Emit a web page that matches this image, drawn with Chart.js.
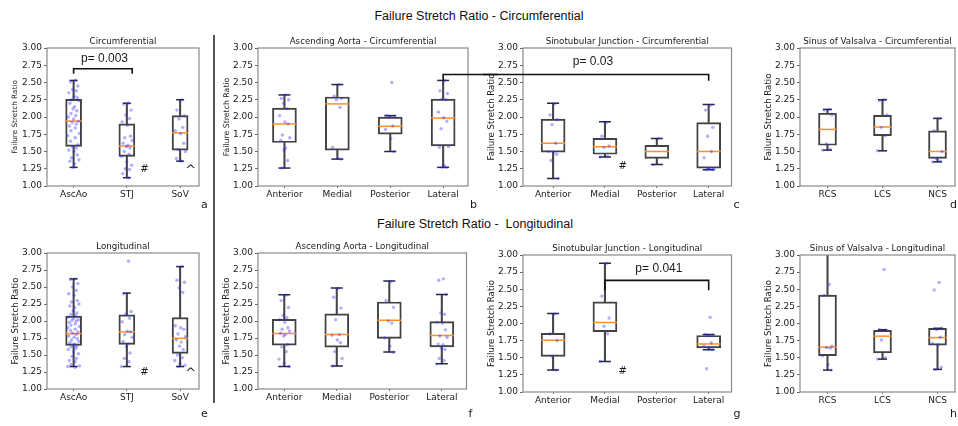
<!DOCTYPE html>
<html>
<head>
<meta charset="utf-8">
<script src="https://cdn.jsdelivr.net/npm/chart.js@4.4.1/dist/chart.umd.min.js"></script>
<style>
  body { margin: 0; width: 958px; height: 426px; background: #fff; position: relative; overflow: hidden; }
  canvas { position: absolute; }
  .main { position: absolute; left: 0; width: 958px; text-align: center; white-space: pre;
          font: 12.5px "Liberation Sans", Arial, sans-serif; color: #111; }
  #divider { position: absolute; left: 213px; top: 35px; width: 2px; height: 368px; background: #555; }
</style>
</head>
<body>
<div class="main" style="top:9px">Failure Stretch Ratio - Circumferential</div>
<div class="main" style="top:217px; left:-4px">Failure Stretch Ratio -  Longitudinal</div>
<div id="divider"></div>
<script>
// categories
const regionLabels = ['AscAo', 'STJ', 'SoV'];
const segmentLabels = ['Anterior', 'Medial', 'Posterior', 'Lateral'];
const cuspLabels = ['RCS', 'LCS', 'NCS'];
const yTicks = [1.00, 1.25, 1.50, 1.75, 2.00, 2.25, 2.50, 2.75, 3.00];

// a - circumferential, by region
const circRegionLo  = [1.27, 1.12, 1.36];
const circRegionQ1  = [1.575, 1.43, 1.52];
const circRegionMed = [1.94, 1.58, 1.77];
const circRegionQ3  = [2.255, 1.90, 2.02];
const circRegionHi  = [2.53, 2.20, 2.25];
const circRegionPts = [
  [2.53, 2.51, 2.45, 2.40, 2.38, 2.35, 2.30, 2.28, 2.25, 2.24, 2.20, 2.15, 2.12, 2.09, 2.05, 2.02, 2.00, 1.97, 1.94, 1.92,
   1.90, 1.87, 1.84, 1.80, 1.76, 1.73, 1.70, 1.65, 1.60, 1.57, 1.55, 1.52, 1.50, 1.45, 1.41, 1.38, 1.36, 1.32, 1.27],
  [2.20, 2.19, 2.10, 2.03, 1.98, 1.93, 1.88, 1.72, 1.70, 1.66, 1.62, 1.59, 1.57, 1.55, 1.50, 1.46, 1.43, 1.35, 1.30,
   1.25, 1.24, 1.18, 1.12],
  [2.25, 2.10, 2.02, 1.97, 1.85, 1.80, 1.76, 1.62, 1.53, 1.50, 1.40, 1.36]
];

// b - circumferential, ascending aorta
const circAaoLo  = [1.26, 1.39, 1.50, 1.27];
const circAaoQ1  = [1.63, 1.52, 1.75, 1.58];
const circAaoMed = [1.90, 2.19, 1.865, 1.985];
const circAaoQ3  = [2.13, 2.29, 2.00, 2.26];
const circAaoHi  = [2.32, 2.47, 2.02, 2.53];
const circAaoPts = [
  [2.32, 2.27, 2.25, 2.20, 2.12, 2.02, 1.93, 1.90, 1.74, 1.70, 1.66, 1.55, 1.52, 1.37, 1.26],
  [2.47, 2.30, 2.27, 2.25, 2.14, 1.56, 1.40, 1.39],
  [2.50, 2.02, 2.01, 2.00, 1.87, 1.82, 1.69, 1.50],
  [2.53, 2.38, 2.34, 2.26, 2.25, 2.07, 1.99, 1.94, 1.83, 1.57, 1.56, 1.30, 1.27, 1.27]
];

// c - circumferential, sinotubular junction
const circStjLo  = [1.11, 1.42, 1.31, 1.235];
const circStjQ1  = [1.49, 1.46, 1.40, 1.26];
const circStjMed = [1.62, 1.57, 1.50, 1.50];
const circStjQ3  = [1.97, 1.69, 1.59, 1.92];
const circStjHi  = [2.20, 1.93, 1.69, 2.18];
const circStjPts = [
  [2.19, 2.03, 1.96, 1.89, 1.62, 1.50, 1.49, 1.46, 1.37, 1.11],
  [1.92, 1.72, 1.58, 1.56, 1.43, 1.42],
  [1.69, 1.31],
  [2.17, 2.10, 1.85, 1.72, 1.50, 1.41, 1.25, 1.24, 1.24, 1.25]
];

// d - circumferential, sinus of valsalva
const circSovLo  = [1.52, 1.51, 1.35];
const circSovQ1  = [1.59, 1.73, 1.40];
const circSovMed = [1.82, 1.855, 1.50];
const circSovQ3  = [2.055, 2.025, 1.80];
const circSovHi  = [2.11, 2.25, 1.98];
const circSovPts = [
  [2.11, 2.10, 2.03, 1.61, 1.53, 1.52],
  [2.25, 2.24, 2.03, 1.85, 1.73, 1.51],
  [1.98, 1.80, 1.50, 1.40, 1.36, 1.35]
];

// e - longitudinal, by region
const longRegionLo  = [1.33, 1.33, 1.33];
const longRegionQ1  = [1.64, 1.655, 1.525];
const longRegionMed = [1.815, 1.84, 1.745];
const longRegionQ3  = [2.07, 2.09, 2.05];
const longRegionHi  = [2.62, 2.41, 2.80];
const longRegionPts = [
  [2.62, 2.61, 2.55, 2.50, 2.45, 2.40, 2.38, 2.30, 2.28, 2.25, 2.22, 2.20, 2.15, 2.12, 2.10, 2.08, 2.06, 2.04, 2.02, 2.01,
   2.00, 1.98, 1.96, 1.94, 1.92, 1.90, 1.88, 1.86, 1.84, 1.82, 1.80, 1.78, 1.76, 1.74, 1.72, 1.70, 1.68, 1.66, 1.65, 1.63,
   1.62, 1.60, 1.58, 1.55, 1.52, 1.48, 1.45, 1.42, 1.40, 1.36, 1.34, 1.33, 1.32],
  [2.88, 2.40, 2.14, 2.10, 2.04, 1.99, 1.85, 1.84, 1.80, 1.76, 1.70, 1.66, 1.62, 1.53, 1.45, 1.40, 1.33],
  [2.80, 2.60, 2.57, 2.49, 2.42, 1.93, 1.90, 1.88, 1.81, 1.77, 1.72, 1.69, 1.63, 1.58, 1.50, 1.46, 1.42, 1.38, 1.35, 1.33]
];

// f - longitudinal, ascending aorta
const longAaoLo  = [1.33, 1.34, 1.545, 1.37];
const longAaoQ1  = [1.645, 1.615, 1.745, 1.62];
const longAaoMed = [1.815, 1.80, 2.01, 1.785];
const longAaoQ3  = [2.025, 2.105, 2.28, 1.99];
const longAaoHi  = [2.385, 2.485, 2.59, 2.39];
const longAaoPts = [
  [2.38, 2.30, 2.20, 2.08, 2.05, 2.02, 1.98, 1.90, 1.88, 1.85, 1.82, 1.80, 1.78, 1.65, 1.62, 1.55, 1.44, 1.38, 1.33],
  [2.48, 2.35, 2.19, 2.02, 1.80, 1.79, 1.72, 1.68, 1.55, 1.45, 1.34],
  [2.58, 2.30, 2.20, 2.00, 1.97, 1.75, 1.63, 1.54],
  [2.62, 2.60, 2.39, 2.12, 2.10, 1.98, 1.97, 1.87, 1.78, 1.76, 1.66, 1.65, 1.60, 1.58, 1.45, 1.42, 1.37]
];

// g - longitudinal, sinotubular junction (no posterior samples)
const longStjLo  = [1.32, 1.445, null, 1.615];
const longStjQ1  = [1.52, 1.88, null, 1.645];
const longStjMed = [1.755, 2.015, null, 1.70];
const longStjQ3  = [1.855, 2.315, null, 1.825];
const longStjHi  = [2.145, 2.88, null, 1.84];
const longStjPts = [
  [2.14, 1.85, 1.75, 1.52, 1.32],
  [2.88, 2.40, 2.08, 1.96, 1.85, 1.45],
  [],
  [2.09, 1.84, 1.83, 1.82, 1.72, 1.67, 1.65, 1.62, 1.34]
];

// h - longitudinal, sinus of valsalva
const longSovLo  = [1.32, 1.48, 1.33];
const longSovQ1  = [1.53, 1.57, 1.685];
const longSovMed = [1.655, 1.815, 1.795];
const longSovQ3  = [2.415, 1.90, 1.93];
const longSovHi  = [3.1, 1.91, 1.93];
const longSovPts = [
  [2.57, 2.41, 1.67, 1.65, 1.64, 1.53, 1.40, 1.32],
  [2.79, 1.91, 1.90, 1.76, 1.50, 1.48],
  [2.60, 2.49, 1.93, 1.91, 1.80, 1.71, 1.69, 1.36, 1.33]
];

// fixed horizontal spread for the dots (x offset in category units)
const jitter = [0.03, -0.06, 0.08, -0.02, 0.05, -0.09, 0.01, 0.07, -0.04, 0.10, -0.07, 0.02, -0.01, 0.06,
                -0.05, 0.04, -0.10, 0.00, 0.09, -0.03, 0.05, -0.08, 0.03, -0.05, 0.11, -0.11];

const pFont = '12px "Liberation Sans"';
const hashFont = '10px "DejaVu Sans"';
const caretFont = '13px "DejaVu Sans"';

const panels = [
  { letter: 'a', title: 'Circumferential', labels: regionLabels,
    lo: circRegionLo, q1: circRegionQ1, med: circRegionMed, q3: circRegionQ3, hi: circRegionHi, pts: circRegionPts,
    left: 47, top: 48, w: 152, h: 138, xMin: 0.5, xMax: 3.355, boxW: 16, yFont: 7.3, letterDx: 2, letterDy: 19,
    notes: [{t: 'p= 0.003', x: 1.58, y: 2.84, font: pFont}, {t: '#', x: 2.33, y: 1.24, font: hashFont},
            {t: '^', x: 3.2, y: 1.22, font: caretFont}],
    lines: [[[1, 2.626], [1, 2.70], [2.1, 2.70], [2.1, 2.626]]] },
  { letter: 'b', title: 'Ascending Aorta - Circumferential', labels: segmentLabels,
    lo: circAaoLo, q1: circAaoQ1, med: circAaoMed, q3: circAaoQ3, hi: circAaoHi, pts: circAaoPts,
    left: 258, top: 48, w: 210, h: 138, xMin: 0.5, xMax: 4.47, boxW: 24, yFont: 7.8, letterDx: 2, letterDy: 19, padR: 30,
    notes: [],
    lines: [[[4, 2.525], [4, 2.615], ['R', 2.615]]] },
  { letter: 'c', title: 'Sinotubular Junction - Circumferential', labels: segmentLabels,
    lo: circStjLo, q1: circStjQ1, med: circStjMed, q3: circStjQ3, hi: circStjHi, pts: circStjPts,
    left: 523, top: 48, w: 210, h: 138, xMin: 0.42, xMax: 4.44, boxW: 24, yFont: 8.6, letterDx: 2, letterDy: 19,
    notes: [{t: 'p= 0.03', x: 1.77, y: 2.80, font: pFont}, {t: '#', x: 2.34, y: 1.28, font: hashFont}],
    lines: [[['L', 2.615], [4, 2.615], [4, 2.525]]] },
  { letter: 'd', title: 'Sinus of Valsalva - Circumferential', labels: cuspLabels,
    lo: circSovLo, q1: circSovQ1, med: circSovMed, q3: circSovQ3, hi: circSovHi, pts: circSovPts,
    left: 800, top: 48, w: 155, h: 138, xMin: 0.5, xMax: 3.318, boxW: 18, yFont: 8.6, letterDx: -5, letterDy: 19,
    notes: [], lines: [] },
  { letter: 'e', title: 'Longitudinal', labels: regionLabels,
    lo: longRegionLo, q1: longRegionQ1, med: longRegionMed, q3: longRegionQ3, hi: longRegionHi, pts: longRegionPts,
    left: 47, top: 253, w: 152, h: 136, xMin: 0.5, xMax: 3.355, boxW: 16, yFont: 8.6, letterDx: 2, letterDy: 25,
    notes: [{t: '#', x: 2.33, y: 1.244, font: hashFont}, {t: '^', x: 3.2, y: 1.22, font: caretFont}],
    lines: [] },
  { letter: 'f', title: 'Ascending Aorta - Longitudinal', labels: segmentLabels,
    lo: longAaoLo, q1: longAaoQ1, med: longAaoMed, q3: longAaoQ3, hi: longAaoHi, pts: longAaoPts,
    left: 258, top: 253, w: 210, h: 136, xMin: 0.5, xMax: 4.47, boxW: 24, yFont: 8.6, letterDx: 2, letterDy: 25,
    notes: [], lines: [] },
  { letter: 'g', title: 'Sinotubular Junction - Longitudinal', labels: segmentLabels,
    lo: longStjLo, q1: longStjQ1, med: longStjMed, q3: longStjQ3, hi: longStjHi, pts: longStjPts,
    left: 523, top: 255, w: 210, h: 137, xMin: 0.42, xMax: 4.44, boxW: 24, yFont: 8.6, letterDx: 2, letterDy: 22,
    notes: [{t: 'p= 0.041', x: 3.04, y: 2.80, font: pFont}, {t: '#', x: 2.34, y: 1.30, font: hashFont}],
    lines: [[[2, 2.485], [2, 2.63], [4, 2.63], [4, 2.485]]] },
  { letter: 'h', title: 'Sinus of Valsalva - Longitudinal', labels: cuspLabels,
    lo: longSovLo, q1: longSovQ1, med: longSovMed, q3: longSovQ3, hi: longSovHi, pts: longSovPts,
    left: 800, top: 255, w: 155, h: 137, xMin: 0.5, xMax: 3.318, boxW: 18, yFont: 8.6, letterDx: -5, letterDy: 22,
    notes: [], lines: [] }
];

// frame, panel title, letter, p-values and brackets
function makeMarks(p) {
  return {
    id: 'marks' + p.letter,
    afterDraw(chart) {
      const {ctx, chartArea: ca} = chart;
      const xs = chart.scales.x, ys = chart.scales.y;
      const px = v => v === 'L' ? 0 : v === 'R' ? chart.width : xs.getPixelForValue(v);
      ctx.save();
      ctx.strokeStyle = '#8a8a8a';
      ctx.lineWidth = 1.2;
      ctx.strokeRect(ca.left, ca.top, ca.right - ca.left, ca.bottom - ca.top);
      ctx.fillStyle = '#1a1a1a';
      ctx.textAlign = 'center';
      ctx.textBaseline = 'middle';
      ctx.font = '8.7px "DejaVu Sans"';
      ctx.fillText(p.title, (ca.left + ca.right) / 2, ca.top - 6);
      ctx.textAlign = 'left';
      ctx.font = '11px "DejaVu Sans"';
      ctx.fillText(p.letter, ca.right + p.letterDx, ca.bottom + p.letterDy);
      ctx.textAlign = 'center';
      p.notes.forEach(n => {
        ctx.font = n.font;
        ctx.fillText(n.t, px(n.x), ys.getPixelForValue(n.y));
      });
      ctx.strokeStyle = '#111';
      ctx.lineWidth = 1.6;
      p.lines.forEach(l => {
        ctx.beginPath();
        l.forEach(([x, y], i) => {
          if (i) ctx.lineTo(px(x), ys.getPixelForValue(y));
          else ctx.moveTo(px(x), ys.getPixelForValue(y));
        });
        ctx.stroke();
      });
      ctx.restore();
    }
  };
}

panels.forEach(p => {
  const whisk = [], box = [], med = [], caps = [], dots = [];
  p.labels.forEach((_, i) => {
    if (p.q1[i] == null) return;
    const x = i + 1;
    whisk.push({x, y: [p.lo[i], p.q1[i]]}, {x, y: [p.q3[i], p.hi[i]]});
    box.push({x, y: [p.q1[i], p.q3[i]]});
    med.push({x, y: p.med[i]});
    caps.push({x, y: p.lo[i]}, {x, y: p.hi[i]});
    p.pts[i].forEach((v, k) => dots.push({x: x + jitter[k % jitter.length], y: v}));
  });

  const padR = p.padR || 12;
  const W = 40 + p.w + padR, H = 18 + p.h + 30;
  const cv = document.createElement('canvas');
  cv.width = W; cv.height = H;
  cv.style.width = W + 'px'; cv.style.height = H + 'px';
  cv.style.left = (p.left - 40) + 'px';
  cv.style.top = (p.top - 18) + 'px';
  document.body.appendChild(cv);

  new Chart(cv, {
    type: 'bar',
    data: {
      datasets: [
        { type: 'scatter', data: dots, order: 0, pointRadius: 1.7, pointBorderWidth: 0,
          pointBackgroundColor: 'rgba(45,45,255,0.38)' },
        { type: 'scatter', data: caps, order: 1, pointStyle: 'line', pointRadius: p.boxW / 4,
          pointBorderColor: '#25254d', pointBorderWidth: 1.5 },
        { type: 'scatter', data: med, order: 2, pointStyle: 'line', pointRadius: p.boxW / 2,
          pointBorderColor: '#ff8f2a', pointBorderWidth: 1.5 },
        { type: 'bar', data: box, order: 3, grouped: false, barThickness: p.boxW, maxBarThickness: p.boxW,
          backgroundColor: 'rgba(0,0,0,0)', borderColor: '#424242', borderWidth: 1.3, borderSkipped: false },
        { type: 'bar', data: whisk, order: 4, grouped: false, barThickness: 1.4, maxBarThickness: 1.4,
          backgroundColor: '#454545', borderWidth: 0 }
      ]
    },
    options: {
      responsive: false,
      devicePixelRatio: 1,
      animation: false,
      events: [],
      layout: { padding: { left: 0, top: 18, right: padR, bottom: 10 } },
      plugins: { legend: { display: false }, tooltip: { enabled: false } },
      scales: {
        x: {
          type: 'linear', min: p.xMin, max: p.xMax, offset: false,
          grid: { display: true, drawOnChartArea: false, offset: false, tickLength: 2, color: '#777' },
          border: { display: false },
          afterBuildTicks: s => { s.ticks = p.labels.map((_, i) => ({ value: i + 1 })); },
          afterFit: s => { s.height = 20; },
          ticks: { autoSkip: false, maxRotation: 0, padding: 1, color: '#1a1a1a',
                   font: { family: 'DejaVu Sans', size: 9 },
                   callback: v => p.labels[Math.round(v) - 1] }
        },
        y: {
          type: 'linear', min: 1, max: 3,
          grid: { display: true, drawOnChartArea: false, tickLength: 3, color: '#666' },
          border: { display: false },
          afterBuildTicks: s => { s.ticks = yTicks.map(v => ({ value: v })); },
          afterFit: s => { s.width = 40; },
          ticks: { padding: 2, color: '#1a1a1a', font: { family: 'DejaVu Sans', size: 9 },
                   callback: v => v.toFixed(2) },
          title: { display: true, text: 'Failure Stretch Ratio', color: '#1a1a1a',
                   font: { family: 'DejaVu Sans', size: p.yFont }, padding: { top: 4, bottom: 0 } }
        }
      }
    },
    plugins: [makeMarks(p)]
  });
});
</script>
</body>
</html>
